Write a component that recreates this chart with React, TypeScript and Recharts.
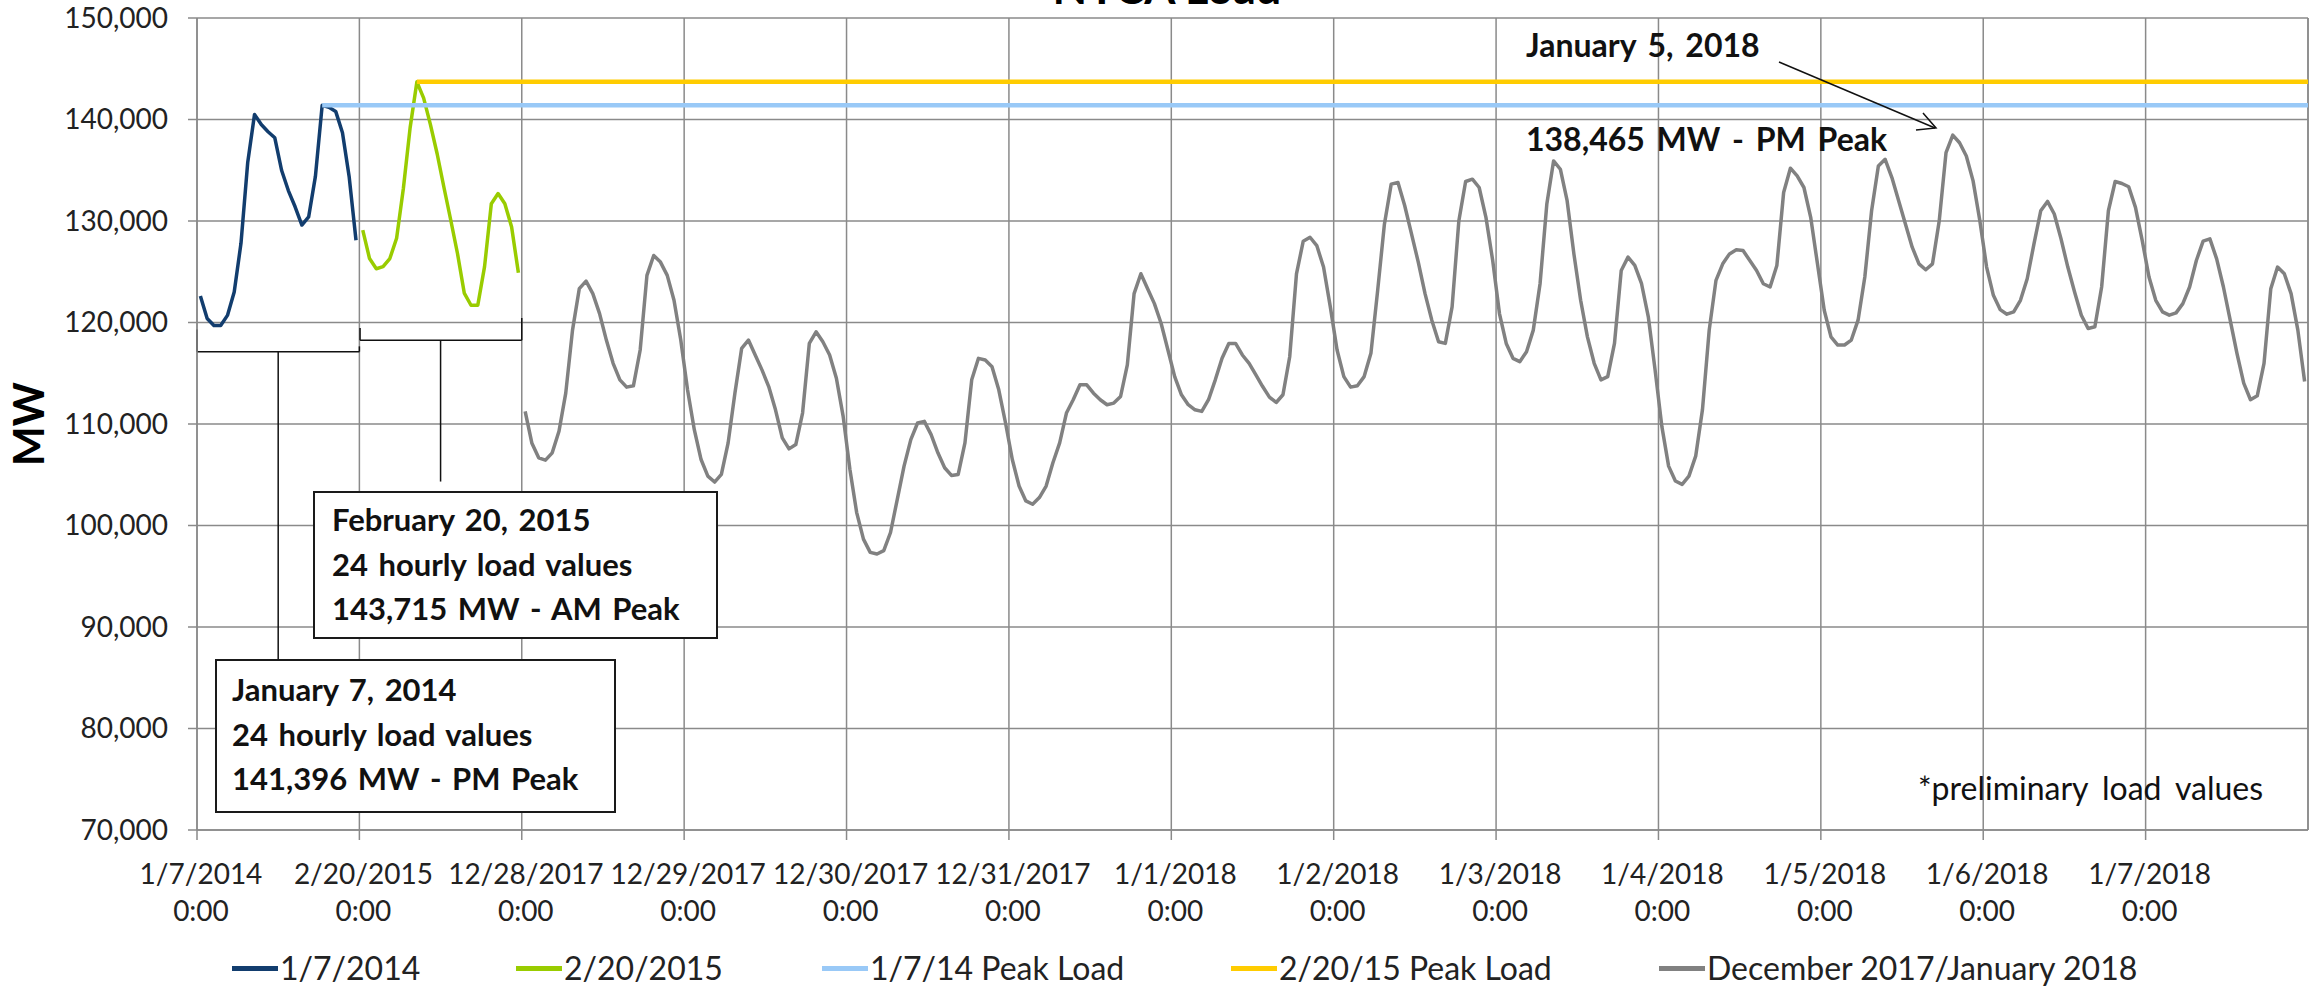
import React from 'react'
import { LineChart, Line, XAxis, YAxis, CartesianGrid, ReferenceLine, Legend } from 'recharts'

// one category per hour; 13 days of 24 hours on the axis
const DAY_LABELS = [
  '1/7/2014', '2/20/2015', '12/28/2017', '12/29/2017', '12/30/2017', '12/31/2017',
  '1/1/2018', '1/2/2018', '1/3/2018', '1/4/2018', '1/5/2018', '1/6/2018', '1/7/2018',
]
const HOURS_PER_DAY = 24
const TOTAL_HOURS = DAY_LABELS.length * HOURS_PER_DAY
const DAY_TICKS = DAY_LABELS.map((_, i) => i * HOURS_PER_DAY)
const Y_TICKS = [70000, 80000, 90000, 100000, 110000, 120000, 130000, 140000, 150000]

// hourly load, MW
const LOAD_JAN_7_2014 = [
  122600, 120400, 119700, 119700, 120700, 123000, 127800, 135800, 140500, 139500, 138800, 138200,
  135000, 133000, 131400, 129600, 130400, 134400, 141396, 141200, 140800, 138700, 134300, 128100,
]
const LOAD_FEB_20_2015 = [
  129100, 126300, 125300, 125500, 126300, 128300, 133200, 139200, 143715, 142100, 139500, 136600,
  133300, 130100, 126800, 122900, 121700, 121700, 125500, 131700, 132700, 131700, 129400, 124900,
]
// 12/28/2017 through 1/7/2018 (preliminary)
const LOAD_DEC17_JAN18 = [
  // 12/28
  111240, 108100, 106670, 106440, 107160, 109280, 113040, 119250, 123330, 124080, 122840, 120880,
  118270, 115980, 114350, 113630, 113760, 117290, 124640, 126600, 125950, 124640, 122190, 118270,
  // 12/29
  113370, 109440, 106500, 104870, 104280, 105030, 108140, 113040, 117450, 118270, 116800, 115330,
  113690, 111400, 108630, 107550, 107970, 111080, 117940, 119080, 118100, 116800, 114510, 110750,
  // 12/30
  105520, 101270, 98660, 97350, 97190, 97520, 99310, 102580, 105850, 108460, 110100, 110260,
  108950, 107160, 105690, 104930, 105030, 108140, 114350, 116470, 116310, 115650, 113370, 110100,
  // 12/31
  106500, 103890, 102420, 102090, 102750, 103890, 106180, 108140, 111080, 112390, 113860, 113860,
  113040, 112390, 111900, 112060, 112710, 115820, 122840, 124800, 123330, 121860, 119900, 117290,
  // 1/1
  114670, 112880, 111900, 111400, 111240, 112390, 114350, 116470, 117940, 117940, 116800, 115980,
  114840, 113690, 112650, 112120, 112880, 116630, 124800, 128010, 128400, 127580, 125460, 121540,
  // 1/2
  117290, 114670, 113630, 113760, 114670, 116960, 123170, 129710, 133630, 133790, 131500, 128730,
  125950, 122840, 120230, 118100, 117940, 121540, 130030, 133890, 134120, 133300, 130360, 126110,
  // 1/3
  120880, 117940, 116470, 116140, 117120, 119250, 123820, 131670, 135920, 135100, 132000, 126760,
  122190, 118590, 115980, 114350, 114670, 117940, 125130, 126440, 125620, 123820, 120560, 115330,
  // 1/4
  109770, 105850, 104380, 104050, 104870, 106830, 111400, 119250, 124150, 125780, 126760, 127160,
  127090, 126110, 125130, 123820, 123500, 125620, 132810, 135200, 134440, 133300, 130360, 125780,
  // 1/5
  121210, 118590, 117780, 117780, 118270, 120230, 124480, 131010, 135420, 136080, 134280, 131990,
  129710, 127420, 125780, 125200, 125780, 130030, 136730, 138465, 137710, 136410, 133950, 130030,
  // 1/6
  125460, 122680, 121270, 120820, 121050, 122190, 124310, 127750, 131010, 131930, 130690, 128240,
  125460, 123010, 120720, 119410, 119580, 123500, 131010, 133890, 133690, 133370, 131340, 128070,
  // 1/7
  124480, 122190, 121050, 120720, 120950, 121860, 123500, 126110, 128010, 128240, 126270, 123500,
  120230, 116960, 114020, 112390, 112780, 115980, 123330, 125460, 124800, 122840, 119250, 114180,
]

// peak values and the hour (axis position) where each peak line starts
const PEAK_LOADS = [141396, 143715]
const PEAK_HOURS = [18, 32]

const FONT = 'Lato, "Noto Sans", sans-serif'
const GRID = '#8a8a8a'

const toPoints = (values: number[], start: number) =>
  values.map((y, i) => ({ x: start + i + 0.5, y }))

const peakPoints = (i: number) => [
  { x: PEAK_HOURS[i] + 0.5, y: PEAK_LOADS[i] },
  { x: TOTAL_HOURS, y: PEAK_LOADS[i] },
]

const SERIES = [
  { name: '1/7/2014', color: '#123d6e', width: 3.5, data: toPoints(LOAD_JAN_7_2014, 0) },
  { name: '2/20/2015', color: '#99cc00', width: 3.5, data: toPoints(LOAD_FEB_20_2015, HOURS_PER_DAY) },
  { name: '1/7/14 Peak Load', color: '#99c9f7', width: 4.5, data: peakPoints(0) },
  { name: '2/20/15 Peak Load', color: '#ffcc00', width: 4.5, data: peakPoints(1) },
  { name: 'December 2017/January 2018', color: '#818181', width: 3.5, data: toPoints(LOAD_DEC17_JAN18, 2 * HOURS_PER_DAY) },
]

const LEGEND_LEFT = [232, 516, 822, 1231, 1659]

function DayTick({ x, y, payload }: any) {
  const label = DAY_LABELS[Math.round(payload.value / HOURS_PER_DAY)]
  return (
    <text x={x + 4} y={y} textAnchor="middle" fontFamily={FONT} fontSize={28} fill="#222">
      <tspan x={x + 4} dy={44}>{label}</tspan>
      <tspan x={x + 4} dy={37}>0:00</tspan>
    </text>
  )
}

function MwLabel({ viewBox }: any) {
  const cx = viewBox.x + 28
  const cy = viewBox.y + viewBox.height / 2
  return (
    <text
      x={cx}
      y={cy}
      transform={`rotate(-90 ${cx} ${cy})`}
      textAnchor="middle"
      dominantBaseline="central"
      fontFamily={FONT}
      fontWeight={700}
      fontSize={42}
      fill="#000"
    >
      MW
    </text>
  )
}

function LegendContent() {
  return (
    <div style={{ position: 'relative', width: 2318, height: 60 }}>
      {SERIES.map((s, i) => (
        <div
          key={s.name}
          style={{
            position: 'absolute',
            left: LEGEND_LEFT[i],
            top: 22,
            height: 36,
            lineHeight: '36px',
            display: 'flex',
            alignItems: 'center',
            whiteSpace: 'nowrap',
            fontFamily: FONT,
            fontSize: 32,
            color: '#222',
          }}
        >
          <span style={{ display: 'inline-block', width: 46, height: 5, background: s.color, marginRight: 2 }} />
          {s.name}
        </div>
      ))}
    </div>
  )
}

const boxStyle: React.CSSProperties = {
  position: 'absolute',
  boxSizing: 'border-box',
  border: '2px solid #1a1a1a',
  background: '#fff',
  fontFamily: FONT,
  fontWeight: 700,
  fontSize: 31,
  wordSpacing: 3,
  lineHeight: '44.5px',
  color: '#111',
  whiteSpace: 'nowrap',
}

const noteStyle: React.CSSProperties = {
  position: 'absolute',
  fontFamily: FONT,
  fontWeight: 700,
  fontSize: 32,
  wordSpacing: 4,
  lineHeight: '36px',
  color: '#111',
  whiteSpace: 'nowrap',
}

export default function App() {
  return (
    <div style={{ position: 'absolute', left: 0, top: 0, width: 2318, height: 988, background: '#fff', overflow: 'hidden' }}>
      <LineChart width={2318} height={988} margin={{ top: 18, right: 10, bottom: 0, left: 0 }}>
        <CartesianGrid stroke={GRID} strokeWidth={1.5} />
        <XAxis
          type="number"
          dataKey="x"
          domain={[0, TOTAL_HOURS]}
          ticks={DAY_TICKS}
          interval={0}
          height={98}
          tickSize={10}
          tickMargin={0}
          stroke={GRID}
          strokeWidth={1.5}
          tick={<DayTick />}
        />
        <YAxis
          type="number"
          domain={[70000, 150000]}
          ticks={Y_TICKS}
          interval={0}
          width={197}
          tickSize={9}
          tickMargin={20}
          stroke={GRID}
          strokeWidth={1.5}
          tick={{ fontFamily: FONT, fontSize: 28, fill: '#222' }}
          tickFormatter={(v: number) => v.toLocaleString('en-US')}
          label={<MwLabel />}
        />
        <ReferenceLine x={TOTAL_HOURS} stroke={GRID} strokeWidth={1.5} />

        {/* braces under the two historical days */}
        <ReferenceLine segment={[{ x: 0, y: 119300 }, { x: 0, y: 117130 }]} stroke="#111" strokeWidth={1.5} />
        <ReferenceLine segment={[{ x: 0, y: 117130 }, { x: 24, y: 117130 }]} stroke="#111" strokeWidth={1.5} />
        <ReferenceLine segment={[{ x: 24, y: 117130 }, { x: 24, y: 117650 }]} stroke="#111" strokeWidth={1.5} />
        <ReferenceLine segment={[{ x: 12, y: 117130 }, { x: 12, y: 86840 }]} stroke="#111" strokeWidth={1.5} />
        <ReferenceLine segment={[{ x: 24.1, y: 119470 }, { x: 24.1, y: 118250 }]} stroke="#111" strokeWidth={1.5} />
        <ReferenceLine segment={[{ x: 24.1, y: 118250 }, { x: 48, y: 118250 }]} stroke="#111" strokeWidth={1.5} />
        <ReferenceLine segment={[{ x: 48, y: 118250 }, { x: 48, y: 120450 }]} stroke="#111" strokeWidth={1.5} />
        <ReferenceLine segment={[{ x: 36, y: 118250 }, { x: 36, y: 104330 }]} stroke="#111" strokeWidth={1.5} />

        {SERIES.map((s) => (
          <Line
            key={s.name}
            name={s.name}
            data={s.data}
            dataKey="y"
            type="linear"
            stroke={s.color}
            strokeWidth={s.width}
            strokeLinejoin="round"
            dot={false}
            activeDot={false}
            isAnimationActive={false}
          />
        ))}
        <Legend verticalAlign="bottom" height={60} content={<LegendContent />} />
      </LineChart>

      {/* title, mostly cut off at the top as in the original */}
      <div
        style={{
          position: 'absolute', left: 667, top: -40, width: 1000, textAlign: 'center',
          fontFamily: FONT, fontWeight: 700, fontSize: 45, lineHeight: '54px', color: '#000',
        }}
      >
        NYCA Load
      </div>

      <div style={{ ...boxStyle, left: 313, top: 491, width: 405, height: 148, padding: '4px 0 0 17px' }}>
        <div>February 20, 2015</div>
        <div>24 hourly load values</div>
        <div>143,715 MW - AM Peak</div>
      </div>
      <div style={{ ...boxStyle, left: 215, top: 659, width: 401, height: 154, padding: '6px 0 0 15px' }}>
        <div>January 7, 2014</div>
        <div>24 hourly load values</div>
        <div>141,396 MW - PM Peak</div>
      </div>

      <div style={{ ...noteStyle, left: 1526, top: 27 }}>January 5, 2018</div>
      <div style={{ ...noteStyle, left: 1526, top: 121 }}>138,465 MW - PM Peak</div>
      <div style={{ ...noteStyle, left: 1918, top: 770, fontWeight: 400, fontSize: 32, wordSpacing: 6 }}>*preliminary load values</div>

      <svg width={2318} height={988} style={{ position: 'absolute', left: 0, top: 0, pointerEvents: 'none' }}>
        <g stroke="#111" strokeWidth={1.5} fill="none">
          <line x1={1779} y1={62} x2={1935} y2={128} />
          <polyline points="1923,113 1936,128 1916,130" />
        </g>
      </svg>
    </div>
  )
}
